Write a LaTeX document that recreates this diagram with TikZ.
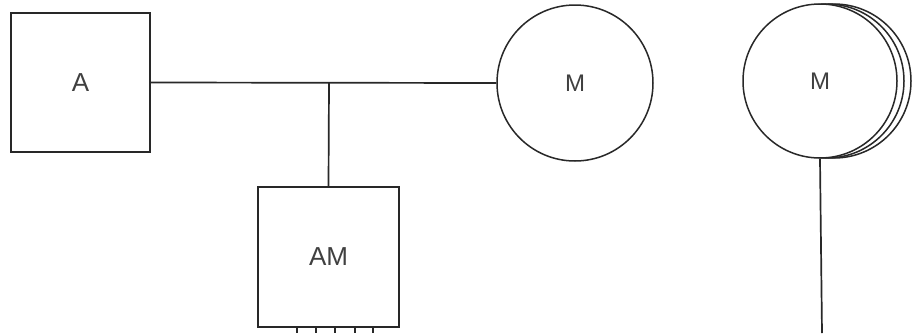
\documentclass[tikz,border=0pt]{standalone}
\usepackage{fontspec}
\setmainfont{Liberation Sans}
\usepackage{xcolor}
\usepackage{tikz}
\definecolor{wireblack}{RGB}{40,40,40}

\tikzset{
  unitbox/.style={draw=wireblack, line width=1.7pt, fill=white, minimum width=139pt, minimum height=139pt, inner sep=0pt, font=\fontsize{26}{28}\selectfont, text=black!75},
  motorcirc/.style={draw=wireblack, line width=1.5pt, fill=white, circle, minimum size=156pt, inner sep=0pt, font=\fontsize{24}{28}\selectfont, text=black!75},
  wire/.style={draw=wireblack, line width=1.7pt}
}

\begin{document}
\begin{tikzpicture}[x=1pt, y=-1pt]
                \useasboundingbox (0,0) rectangle (914,333);
                % units
                \node[unitbox] (a) at (80.5,82.5) {A};
                \node[unitbox, minimum width=141pt, minimum height=140pt] (am) at (328.5,257) {AM};
                \node[motorcirc] (m1) at (575,83) {M};
                % stacked motor
                \node[motorcirc, minimum size=154pt] (m2c) at (834,81) {};
                \node[motorcirc, minimum size=154pt] (m2b) at (827,81) {};
                \node[motorcirc, minimum size=154pt] (m2) at (820,81) {M};
                % wiring
                \coordinate (j) at (329,83);
                \coordinate (tail) at (822,333);
                \draw[wire] (a.east) -- (m1.west);
                \draw[wire] (j) -- (am.north);
                \draw[wire] (m2.south) -- (tail);
                \foreach \tx in {297,316,335,355,373}
                  \draw[wire, line width=1.2pt] (\tx,327) -- (\tx,333);
            \end{tikzpicture}
\end{document}
